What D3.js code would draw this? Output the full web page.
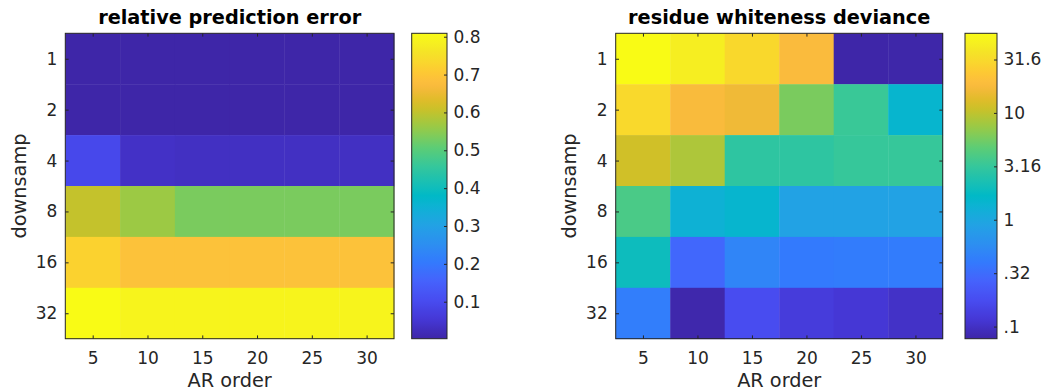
<!DOCTYPE html>
<html>
<head>
<meta charset="utf-8">
<script src="https://cdn.jsdelivr.net/npm/d3@7"></script>
<style>
  body { margin: 0; background: #fff; }
  svg text { font-family: "DejaVu Sans", sans-serif; fill: #262626; }
</style>
</head>
<body>
<svg id="chart" width="1042" height="392"></svg>
<script>
// ---- data ----------------------------------------------------------
const arOrders = [5, 10, 15, 20, 25, 30];          // columns
const downsamp = [1, 2, 4, 8, 16, 32];             // rows

// relative prediction error, one row per downsampling factor
const predError = [
  [0.0023, 0.0023, 0.0023, 0.0023, 0.0023, 0.0023],
  [0.0023, 0.0023, 0.0023, 0.0023, 0.0023, 0.0023],
  [0.095,  0.036,  0.032,  0.032,  0.032,  0.032 ],
  [0.603,  0.565,  0.534,  0.534,  0.534,  0.534 ],
  [0.724,  0.689,  0.689,  0.689,  0.689,  0.689 ],
  [0.809,  0.793,  0.793,  0.793,  0.793,  0.793 ]
];

// residue whiteness deviance (shown on a log colour scale)
const whiteness = [
  [55.6, 44.0, 30.7, 18.2, 0.077, 0.078],
  [31.0, 18.0, 16.0, 5.9,  3.3,   1.49 ],
  [11.5, 8.7,  2.9,  2.9,  3.2,   3.2  ],
  [3.9,  1.31, 1.49, 0.90, 0.90,  0.90 ],
  [1.94, 0.29, 0.49, 0.40, 0.42,  0.42 ],
  [0.43, 0.080, 0.175, 0.128, 0.116, 0.102]
];

const errTicks = [0.1, 0.2, 0.3, 0.4, 0.5, 0.6, 0.7, 0.8];
const errTickLabels = ["0.1", "0.2", "0.3", "0.4", "0.5", "0.6", "0.7", "0.8"];
const devTicks = [0.1, 0.316, 1, 3.16, 10, 31.6];
const devTickLabels = [".1", ".32", "1", "3.16", "10", "31.6"];

// ---- parula colormap ------------------------------------------------
const parulaStops = [
  [0,   0.2422, 0.1504, 0.6603],
  [16,  0.2704, 0.2138, 0.8346],
  [32,  0.2813, 0.2985, 0.9397],
  [48,  0.2710, 0.3860, 0.9898],
  [64,  0.2006, 0.4803, 0.9906],
  [80,  0.1716, 0.5655, 0.9393],
  [96,  0.1288, 0.6408, 0.8910],
  [112, 0.0433, 0.7039, 0.8242],
  [119, 0.0009, 0.7248, 0.7815],
  [128, 0.0770, 0.7468, 0.7224],
  [144, 0.2061, 0.7808, 0.6065],
  [160, 0.3671, 0.8021, 0.4563],
  [176, 0.5886, 0.7913, 0.2833],
  [192, 0.7945, 0.7554, 0.1570],
  [200, 0.8804, 0.7372, 0.1650],
  [208, 0.9523, 0.7284, 0.2237],
  [213, 0.9900, 0.7365, 0.2429],
  [224, 0.9938, 0.7974, 0.1974],
  [240, 0.9601, 0.8963, 0.1507],
  [248, 0.9642, 0.9437, 0.1216],
  [255, 0.9769, 0.9839, 0.0805]
];
const parula = d3.scaleLinear()
  .domain(parulaStops.map(s => s[0] / 255))
  .range(parulaStops.map(s => d3.rgb(s[1] * 255, s[2] * 255, s[3] * 255).toString()))
  .interpolate(d3.interpolateRgb)
  .clamp(true);

// ---- drawing ---------------------------------------------------------
const svg = d3.select("#chart");
const AXIS = "#262626";
const TICK_FS = 17, LABEL_FS = 19.3;

function panel(opts) {
  const g = svg.append("g");
  const { x0, x1, y0, y1, cbX0, cbX1 } = opts;

  const x = d3.scaleLinear().domain([2.5, 32.5]).range([x0, x1]);
  const y = d3.scaleLinear().domain([0.5, downsamp.length + 0.5]).range([y0, y1]);

  // colour mapping: data -> [0,1] -> parula
  const t = opts.log
    ? d3.scaleLog().domain(d3.extent(opts.values.flat())).range([0, 1])
    : d3.scaleLinear().domain(d3.extent(opts.values.flat())).range([0, 1]);

  // cells
  opts.values.forEach((row, i) => {
    row.forEach((v, j) => {
      g.append("rect")
        .attr("x", x(arOrders[j] - 2.5))
        .attr("y", y(i + 0.5))
        .attr("width", x(arOrders[j] + 2.5) - x(arOrders[j] - 2.5) + 0.4)
        .attr("height", y(i + 1.5) - y(i + 0.5) + 0.4)
        .attr("fill", parula(t(v)));
    });
  });

  // axes: ticks inward on all four sides
  const tl = 3.3;
  const rowIdx = downsamp.map((d, i) => i + 1);
  const left = g.append("g").attr("transform", `translate(${x0},0)`)
    .call(d3.axisLeft(y).tickValues(rowIdx).tickFormat((d, i) => downsamp[i])
      .tickSizeInner(-tl).tickSizeOuter(0).tickPadding(8));
  const right = g.append("g").attr("transform", `translate(${x1},0)`)
    .call(d3.axisRight(y).tickValues(rowIdx).tickFormat("").tickSizeInner(-tl).tickSizeOuter(0));
  const bottom = g.append("g").attr("transform", `translate(0,${y1})`)
    .call(d3.axisBottom(x).tickValues(arOrders).tickFormat(d3.format("d"))
      .tickSizeInner(-tl).tickSizeOuter(0).tickPadding(13.5));
  const top = g.append("g").attr("transform", `translate(0,${y0})`)
    .call(d3.axisTop(x).tickValues(arOrders).tickFormat("").tickSizeInner(-tl).tickSizeOuter(0));
  [left, right, bottom, top].forEach(a => {
    a.select(".domain").remove();
    a.selectAll("line").attr("stroke", AXIS);
    a.selectAll("text").attr("font-size", TICK_FS).attr("font-family", null).attr("fill", AXIS);
  });

  g.append("rect")
    .attr("x", x0).attr("y", y0)
    .attr("width", x1 - x0).attr("height", y1 - y0)
    .attr("fill", "none").attr("stroke", AXIS).attr("stroke-width", 1);

  // titles and axis labels
  g.append("text")
    .attr("x", (x0 + x1) / 2).attr("y", 23.5)
    .attr("text-anchor", "middle").attr("font-weight", "bold")
    .attr("font-size", LABEL_FS).style("fill", "#000")
    .text(opts.title);
  g.append("text")
    .attr("x", (x0 + x1) / 2).attr("y", 387)
    .attr("text-anchor", "middle").attr("font-size", LABEL_FS)
    .text("AR order");
  g.append("text")
    .attr("transform", `translate(${opts.ylabX},${(y0 + y1) / 2}) rotate(-90)`)
    .attr("text-anchor", "middle").attr("font-size", LABEL_FS)
    .text("downsamp");

  // colorbar
  const gradId = "grad" + opts.id;
  const grad = svg.append("defs").append("linearGradient")
    .attr("id", gradId).attr("x1", 0).attr("y1", 1).attr("x2", 0).attr("y2", 0);
  d3.range(0, 1.0001, 1 / 64).forEach(p => {
    grad.append("stop").attr("offset", p).attr("stop-color", parula(p));
  });
  g.append("rect")
    .attr("x", cbX0).attr("y", y0)
    .attr("width", cbX1 - cbX0).attr("height", y1 - y0)
    .attr("fill", `url(#${gradId})`)
    .attr("stroke", AXIS).attr("stroke-width", 1);

  const cbScale = (opts.log ? d3.scaleLog() : d3.scaleLinear())
    .domain(d3.extent(opts.values.flat())).range([y1, y0]);
  const cbAxis = g.append("g").attr("transform", `translate(${cbX1},0)`)
    .call(d3.axisRight(cbScale).tickValues(opts.cbTicks)
      .tickFormat((d, i) => opts.cbLabels[i])
      .tickSizeInner(-3).tickSizeOuter(0).tickPadding(6.5));
  cbAxis.select(".domain").remove();
  cbAxis.selectAll("line").attr("stroke", AXIS);
  cbAxis.selectAll("text").attr("font-size", TICK_FS).attr("font-family", null).attr("fill", AXIS);
}

panel({
  id: "err", title: "relative prediction error", values: predError, log: false,
  x0: 65.3, x1: 394, y0: 33.3, y1: 338.7, cbX0: 411.7, cbX1: 447, ylabX: 26,
  cbTicks: errTicks, cbLabels: errTickLabels
});
panel({
  id: "dev", title: "residue whiteness deviance", values: whiteness, log: true,
  x0: 615.7, x1: 942.7, y0: 33.3, y1: 338.7, cbX0: 965, cbX1: 997, ylabX: 576,
  cbTicks: devTicks, cbLabels: devTickLabels
});
</script>
</body>
</html>
